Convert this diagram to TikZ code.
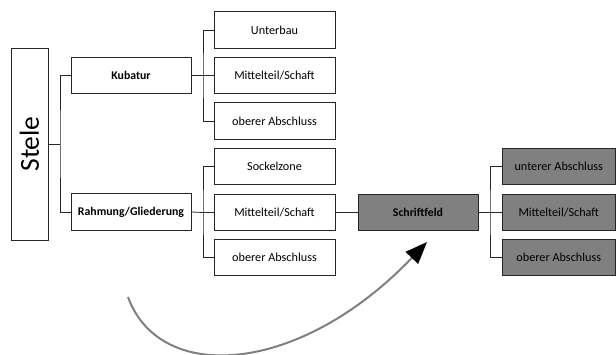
\documentclass[tikz,border=0pt]{standalone}
\usepackage{fontspec}
\setmainfont{Carlito}
\usetikzlibrary{arrows.meta}
\begin{document}
\begin{tikzpicture}[x=1pt,y=-1pt,
  box/.style={draw=black!85,line width=0.8pt,minimum width=120pt,minimum height=36.5pt,inner sep=0pt,font=\fontsize{12.2}{14}\selectfont},
  bbox/.style={box,font=\fontsize{11.8}{14}\selectfont\bfseries},
  dbox/.style={box,fill=black!50},
  conn/.style={draw=black!85,line width=0.8pt}]
\useasboundingbox (0,0) rectangle (616,355);
\node[draw=black!85,line width=0.8pt,minimum width=37pt,minimum height=192pt,inner sep=0pt] (stele) at (29.5,144) {};
\node[rotate=90,font=\fontsize{27.5}{30}\selectfont] at (stele.center) {Stele};
\node[bbox] (kub) at (131,75.5) {Kubatur};
\node[bbox] (rahm) at (131,212) {Rahmung/Gliederung};
\node[box,minimum width=121pt] (unt) at (274.5,30) {Unterbau};
\node[box,minimum width=121pt] (mit1) at (274.5,75.5) {Mittelteil/Schaft};
\node[box,minimum width=121pt] (obe1) at (274.5,121) {oberer Abschluss};
\node[box,minimum width=121pt] (sock) at (274.5,166.5) {Sockelzone};
\node[box,minimum width=121pt] (mit2) at (274.5,212.5) {Mittelteil/Schaft};
\node[box,minimum width=121pt] (obe2) at (274.5,257.5) {oberer Abschluss};
\node[dbox,font=\fontsize{11.8}{14}\selectfont\bfseries] (schr) at (418,212.5) {Schriftfeld};
\node[dbox,minimum width=113.5pt] (unt3) at (558.75,166.5) {unterer Abschluss};
\node[dbox,minimum width=113.5pt] (mit3) at (558.75,212.5) {Mittelteil/Schaft};
\node[dbox,minimum width=113.5pt] (obe3) at (558.75,257.5) {oberer Abschluss};
% connectors
\coordinate (j1) at (60,144);
\draw[conn] (stele.east) -- (j1);
\draw[conn] (kub.west) -| (j1) |- (rahm.west);
\coordinate (j2) at (203,75.5);
\draw[conn] (kub.east) -- (j2);
\draw[conn] (unt.west) -| (j2) |- (obe1.west);
\draw[conn] (j2) -- (mit1.west);
\coordinate (j3) at (203,212.5);
\draw[conn] (rahm.east) -- (j3);
\draw[conn] (sock.west) -| (j3) |- (obe2.west);
\draw[conn] (j3) -- (mit2.west);
\draw[conn] (mit2.east) -- (schr.west);
\coordinate (j4) at (490,212.5);
\draw[conn] (schr.east) -- (mit3.west);
\draw[conn] (unt3.west) -| (j4) |- (obe3.west);
% curved arrow
\coordinate (a0) at (128,297);
\coordinate (a1) at (427,242);
\draw[draw=black!50,line width=2pt,-{Triangle[length=22pt,width=17pt,fill=black,color=black]}]
  (a0) .. controls (160,385) and (300,375) .. (a1);
\end{tikzpicture}
\end{document}
